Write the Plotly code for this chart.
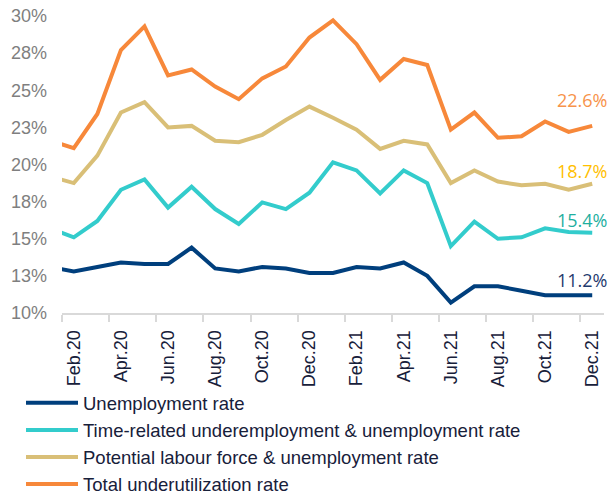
import plotly.graph_objects as go

months = ["Jan.20", "Feb.20", "Mar.20", "Apr.20", "May.20", "Jun.20", "Jul.20", "Aug.20",
          "Sep.20", "Oct.20", "Nov.20", "Dec.20", "Jan.21", "Feb.21", "Mar.21", "Apr.21",
          "May.21", "Jun.21", "Jul.21", "Aug.21", "Sep.21", "Oct.21", "Nov.21", "Dec.21"]

unemployment = [13.1, 12.8, 13.1, 13.4, 13.3, 13.3, 14.4, 13.0, 12.8, 13.1, 13.0, 12.7,
                12.7, 13.1, 13.0, 13.4, 12.5, 10.7, 11.8, 11.8, 11.5, 11.2, 11.2, 11.2]
time_related = [15.7, 15.1, 16.2, 18.3, 19.0, 17.1, 18.5, 17.0, 16.0, 17.45, 17.0, 18.1,
                20.15, 19.6, 18.05, 19.6, 18.75, 14.5, 16.15, 15.0, 15.1, 15.7, 15.45, 15.4]
potential = [19.2, 18.75, 20.6, 23.5, 24.2, 22.5, 22.6, 21.6, 21.5, 22.0, 23.0, 23.9,
             23.15, 22.35, 21.05, 21.6, 21.35, 18.75, 19.6, 18.85, 18.6, 18.7, 18.3, 18.7]
total = [21.6, 21.1, 23.4, 27.7, 29.3, 26.0, 26.4, 25.25, 24.4, 25.8, 26.6, 28.55,
         29.7, 28.1, 25.7, 27.1, 26.7, 22.35, 23.5, 21.8, 21.9, 22.9, 22.2, 22.6]

series_names = ["Unemployment rate",
                "Time-related underemployment & unemployment rate",
                "Potential labour force & unemployment rate",
                "Total underutilization rate"]

y_tickvals = [10, 12.5, 15, 17.5, 20, 22.5, 25, 27.5, 30]
y_ticktext = ["10%", "13%", "15%", "18%", "20%", "23%", "25%", "28%", "30%"]

line_colors = ["#003F7D", "#33CCCC", "#D9BF77", "#F7883A"]
label_colors = ["#1F3A6E", "#1FAF9F", "#FFC000", "#F7934A"]
label_shift = [15, 13, 13, 26]

x_idx = list(range(len(months)))
label_idx = x_idx[1::2]
label_text = [months[i] for i in label_idx]

fig = go.Figure()
all_series = [unemployment, time_related, potential, total]
for name, vals, col in zip(series_names, all_series, line_colors):
    fig.add_trace(go.Scatter(x=x_idx, y=vals, mode="lines", name=name,
                             line=dict(color=col, width=4)))

for vals, col, sh in zip(all_series, label_colors, label_shift):
    fig.add_annotation(x=x_idx[-1], y=vals[-1], text=f"{vals[-1]:.1f}%", showarrow=False,
                       xanchor="right", yanchor="middle", xshift=17, yshift=sh,
                       font=dict(family="Open Sans", size=18, color=col))

fig.update_layout(
    width=611, height=494, autosize=False,
    margin=dict(l=62, r=7, t=16, b=181, autoexpand=False),
    paper_bgcolor="white", plot_bgcolor="white",
    font=dict(family="Liberation Sans", size=18, color="#17203A"),
    showlegend=True,
    legend=dict(orientation="v", xref="container", yref="container",
                x=21 / 611, y=0.222, xanchor="left", yanchor="top",
                font=dict(family="Liberation Sans", size=18.5, color="#17203A"),
                itemwidth=52, tracegroupgap=0, bgcolor="rgba(0,0,0,0)"),
    xaxis=dict(range=[0.5, len(months) - 0.5], tickmode="array", tickvals=label_idx,
               ticktext=label_text, tickangle=-90, ticks="", ticklabelstandoff=8,
               minor=dict(ticks="outside", tickmode="linear", tick0=0.5, dtick=2,
                          ticklen=7, tickwidth=1.5, tickcolor="#D9D9D9", showgrid=False),
               showline=True, linecolor="#D9D9D9", linewidth=2,
               showgrid=False, zeroline=False,
               tickfont=dict(family="Liberation Sans", size=18, color="#17203A")),
    yaxis=dict(range=[10, 30], tickmode="array", tickvals=y_tickvals, ticktext=y_ticktext,
               showgrid=False, zeroline=False, showline=False, ticks="",
               ticklabelstandoff=14,
               tickfont=dict(family="Liberation Sans", size=18, color="#7F7F7F")),
)

fig.write_html("out.html")
